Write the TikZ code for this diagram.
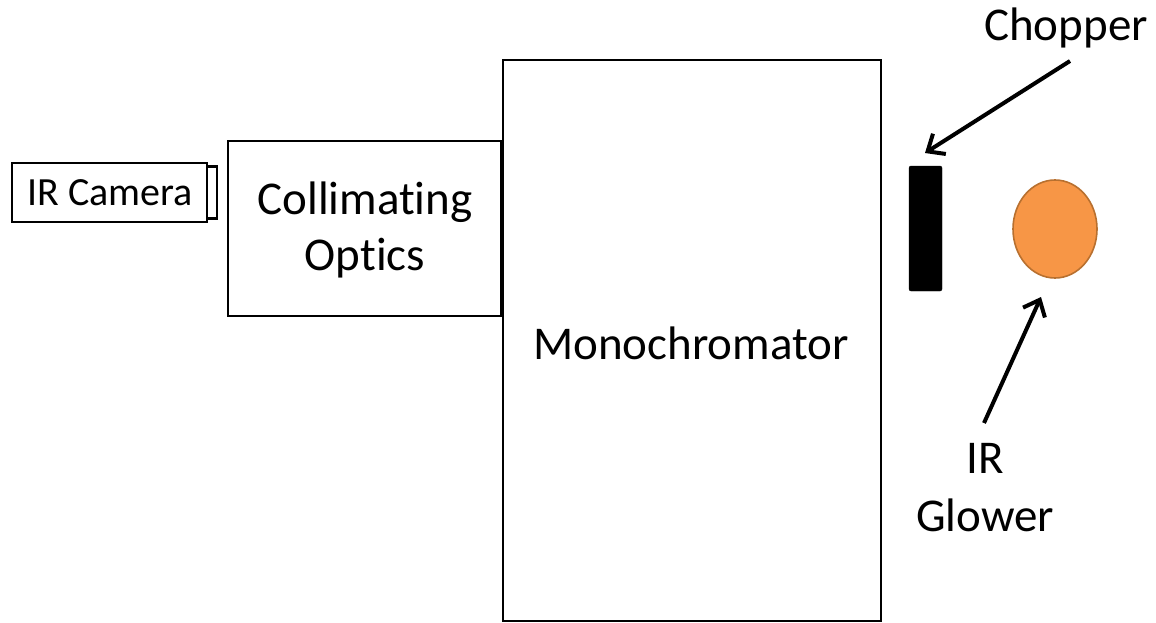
\documentclass[tikz,border=0pt]{standalone}
\usepackage{fontspec}
\setmainfont[Ligatures={NoCommon}]{Carlito}
\usetikzlibrary{arrows.meta,shapes.geometric}
\definecolor{glowfill}{HTML}{F79646}
\definecolor{glowline}{HTML}{B8702F}
\begin{document}
\begin{tikzpicture}[x=1pt,y=-1pt,
  box/.style={draw=black,line width=2.8pt,fill=white,inner sep=0pt},
  lbl/.style={font=\fontsize{47}{56}\selectfont,align=center,inner sep=0pt},
  slbl/.style={font=\fontsize{40}{48}\selectfont,align=center,inner sep=0pt},
  pointer/.style={line width=4pt,-{Straight Barb[length=14pt,width=24pt,line width=4pt]}}]
\useasboundingbox (0,0) rectangle (1156,623);
% Monochromator
\node[box,minimum width=378pt,minimum height=561pt] (mono) at (692,340.5) {};
\node[lbl] (monotxt) at (691,343) {Monochromator};
% Collimating optics
\node[box,minimum width=275pt,minimum height=175pt] (coll) at (365.5,228.5) {};
\node[lbl] (colltxt) at (365,230) {Collimating\\[0pt]Optics};
\draw[line width=2.8pt] (mono.west |- coll.north) -- (mono.west |- coll.south);
% IR camera
\node[box,minimum width=10pt,minimum height=52pt] (cap) at (212,192.5) {};
\node[box,minimum width=195pt,minimum height=59pt] (cam) at (109.5,192.5) {};
\node[slbl] (camtxt) at (110,193) {IR Camera};
% Chopper
\node[draw=black,fill=black,rounded corners=2pt,minimum width=33pt,minimum height=125pt,inner sep=0pt] (chop) at (925.5,228.5) {};
\node[lbl,anchor=center] (choptxt) at (1066,28) {Chopper};
\coordinate (chopstart) at (1070,61);
\coordinate (choptip) at (925,153);
\draw[pointer] (chopstart) -- (choptip);
% Glower
\node[draw=glowline,fill=glowfill,line width=1.6pt,ellipse,minimum width=84pt,minimum height=98pt,inner sep=0pt] (glow) at (1055,229) {};
\node[lbl] (glowtxt) at (985,488) {IR\\[2pt]Glower};
\coordinate (glowstart) at (984,423);
\coordinate (glowtip) at (1041,297);
\draw[pointer] (glowstart) -- (glowtip);
\end{tikzpicture}
\end{document}
